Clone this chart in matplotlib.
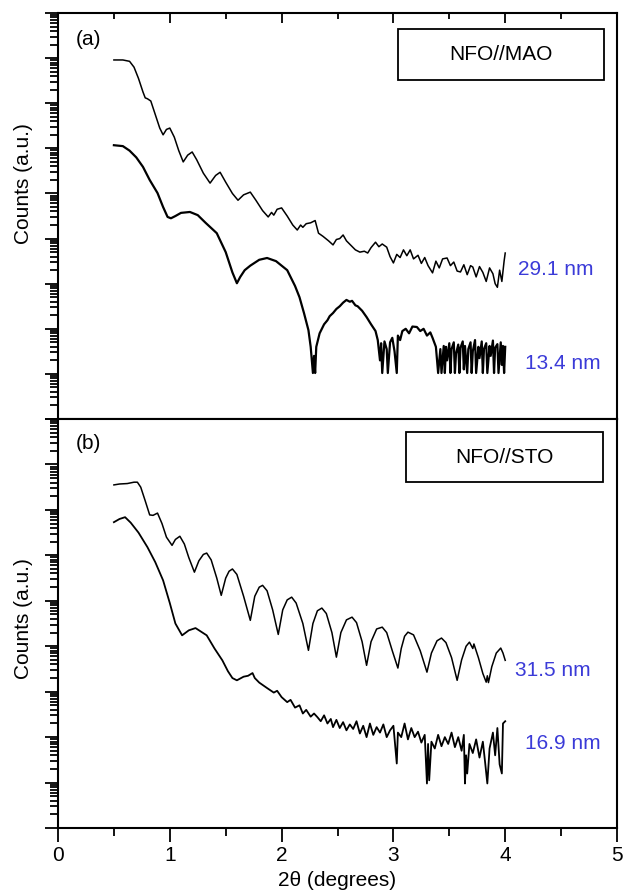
import matplotlib
matplotlib.use("Agg")
import matplotlib.pyplot as plt
from matplotlib.patches import Rectangle
from matplotlib.ticker import LogLocator, NullFormatter, MultipleLocator
import numpy as np

plt.rcParams['font.family'] = ['Liberation Sans', 'DejaVu Sans']

# values, y given as log10(counts) in arbitrary units
# (a) NFO//MAO, 29.1 nm film
mao_thick_x = [0.50, 0.58, 0.64, 0.68, 0.72, 0.76, 0.78, 0.80, 0.83, 0.87, 0.91, 0.94, 0.97, 1.00,
               1.04, 1.08, 1.12, 1.16, 1.20, 1.24, 1.30, 1.36, 1.41, 1.45, 1.50, 1.56, 1.61, 1.66,
               1.72, 1.77, 1.83, 1.88, 1.91, 1.93, 1.96, 2.00, 2.05, 2.10, 2.14, 2.17, 2.19, 2.22,
               2.26, 2.30, 2.33, 2.37, 2.42, 2.46, 2.49, 2.52, 2.55, 2.58, 2.62, 2.66, 2.70, 2.74,
               2.77, 2.80, 2.84, 2.87, 2.90, 2.94, 2.97, 3.00, 3.03, 3.06, 3.09, 3.12, 3.15, 3.18,
               3.22, 3.25, 3.28, 3.31, 3.35, 3.38, 3.41, 3.44, 3.48, 3.51, 3.54, 3.57, 3.60, 3.63,
               3.66, 3.69, 3.71, 3.74, 3.77, 3.80, 3.83, 3.86, 3.89, 3.91, 3.93, 3.95, 3.97, 3.99, 4.00]
mao_thick_log = [7.96, 7.96, 7.93, 7.80, 7.55, 7.25, 7.12, 7.10, 7.05, 6.75, 6.45, 6.30, 6.42, 6.45,
                 6.25, 5.95, 5.70, 5.85, 5.92, 5.75, 5.45, 5.23, 5.40, 5.47, 5.25, 5.00, 4.85, 4.97,
                 5.03, 4.85, 4.62, 4.48, 4.58, 4.52, 4.65, 4.68, 4.50, 4.30, 4.19, 4.30, 4.25, 4.33,
                 4.35, 4.40, 4.12, 4.05, 3.95, 3.86, 3.98, 4.00, 4.08, 3.95, 3.85, 3.75, 3.70, 3.72,
                 3.68, 3.80, 3.92, 3.82, 3.88, 3.81, 3.60, 3.46, 3.65, 3.58, 3.75, 3.62, 3.75, 3.55,
                 3.63, 3.45, 3.58, 3.40, 3.24, 3.50, 3.35, 3.55, 3.57, 3.40, 3.48, 3.28, 3.26, 3.42,
                 3.20, 3.40, 3.37, 3.15, 3.38, 3.25, 3.05, 3.35, 3.22, 3.00, 2.92, 3.30, 3.05, 3.50, 3.68]

# (a) NFO//MAO, 13.4 nm film
mao_thin_x = [0.50, 0.58, 0.64, 0.70, 0.76, 0.82, 0.89, 0.94, 0.98, 1.01, 1.05, 1.10, 1.18, 1.25,
              1.32, 1.42, 1.50, 1.56, 1.60, 1.63, 1.67, 1.72, 1.80, 1.87, 1.95, 2.05, 2.12, 2.16,
              2.20, 2.24, 2.26, 2.28, 2.29, 2.30, 2.31, 2.34, 2.38, 2.41, 2.43, 2.46, 2.49, 2.52,
              2.55, 2.58, 2.61, 2.63, 2.66, 2.68, 2.72, 2.76, 2.80, 2.84, 2.86, 2.88, 2.89, 2.90,
              2.92, 2.94, 2.95, 2.97, 2.99, 3.01, 3.03, 3.04, 3.06, 3.08, 3.11, 3.14, 3.17, 3.21,
              3.24, 3.27, 3.30, 3.33, 3.35, 3.38, 3.40, 3.42, 3.43, 3.45, 3.46, 3.47, 3.48, 3.50,
              3.51, 3.52, 3.54, 3.55, 3.56, 3.58, 3.59, 3.60, 3.62, 3.63, 3.64, 3.66, 3.67, 3.69,
              3.70, 3.71, 3.73, 3.74, 3.76, 3.77, 3.79, 3.80, 3.81, 3.83, 3.84, 3.86, 3.87, 3.89,
              3.90, 3.91, 3.93, 3.94, 3.96, 3.97, 3.98, 3.99, 4.00]
mao_thin_log = [6.07, 6.05, 5.95, 5.80, 5.59, 5.30, 5.01, 4.70, 4.48, 4.45, 4.50, 4.57, 4.59, 4.52,
                4.35, 4.12, 3.70, 3.25, 3.01, 3.15, 3.30, 3.40, 3.53, 3.57, 3.50, 3.30, 2.95, 2.70,
                2.35, 1.97, 1.60, 1.02, 1.40, 1.02, 1.60, 1.90, 2.10, 2.19, 2.28, 2.35, 2.44, 2.50,
                2.58, 2.64, 2.60, 2.62, 2.52, 2.50, 2.40, 2.26, 2.10, 1.95, 1.75, 1.30, 1.68, 1.02,
                1.72, 1.55, 1.02, 1.70, 1.80, 1.50, 1.02, 1.85, 1.75, 1.95, 2.00, 1.90, 2.05, 2.04,
                1.95, 2.00, 1.85, 1.92, 1.80, 1.60, 1.02, 1.55, 1.02, 1.62, 1.02, 1.60, 1.30, 1.68,
                1.02, 1.55, 1.70, 1.02, 1.45, 1.65, 1.02, 1.58, 1.72, 1.10, 1.62, 1.02, 1.55, 1.70,
                1.02, 1.50, 1.75, 1.02, 1.60, 1.35, 1.72, 1.02, 1.55, 1.68, 1.02, 1.62, 1.40, 1.74,
                1.02, 1.58, 1.66, 1.02, 1.70, 1.20, 1.62, 1.02, 1.60]

# (b) NFO//STO, 31.5 nm film
sto_thick_x = [0.50, 0.55, 0.62, 0.68, 0.71, 0.74, 0.78, 0.82, 0.85, 0.89, 0.93, 0.97, 1.02, 1.05,
               1.09, 1.13, 1.17, 1.22, 1.26, 1.30, 1.33, 1.37, 1.42, 1.46, 1.50, 1.53, 1.56, 1.60,
               1.66, 1.72, 1.76, 1.80, 1.83, 1.87, 1.92, 1.97, 2.01, 2.05, 2.09, 2.13, 2.19, 2.24,
               2.28, 2.32, 2.36, 2.40, 2.45, 2.49, 2.53, 2.58, 2.63, 2.67, 2.72, 2.76, 2.80, 2.85,
               2.90, 2.94, 2.99, 3.04, 3.07, 3.10, 3.13, 3.18, 3.24, 3.30, 3.34, 3.39, 3.43, 3.47,
               3.52, 3.57, 3.61, 3.65, 3.68, 3.71, 3.72, 3.76, 3.80, 3.83, 3.84, 3.85, 3.88, 3.92,
               3.96, 3.98, 4.00]
sto_thick_log = [7.55, 7.57, 7.58, 7.61, 7.61, 7.50, 7.20, 6.89, 6.88, 6.93, 6.70, 6.40, 6.22, 6.35,
                 6.42, 6.25, 5.95, 5.63, 5.88, 6.02, 6.05, 5.90, 5.50, 5.12, 5.50, 5.65, 5.70, 5.58,
                 5.10, 4.57, 5.10, 5.30, 5.34, 5.22, 4.80, 4.26, 4.80, 5.02, 5.08, 4.95, 4.50, 3.91,
                 4.50, 4.78, 4.84, 4.72, 4.30, 3.76, 4.30, 4.58, 4.64, 4.52, 4.10, 3.58, 4.10, 4.38,
                 4.42, 4.30, 3.90, 3.52, 3.95, 4.22, 4.31, 4.25, 3.90, 3.43, 3.85, 4.12, 4.18, 4.08,
                 3.75, 3.25, 3.70, 4.00, 4.09, 3.95, 4.05, 3.75, 3.40, 3.21, 3.35, 3.20, 3.55, 3.85,
                 3.96, 3.85, 3.69]

# (b) NFO//STO, 16.9 nm film
sto_thin_x = [0.50, 0.55, 0.60, 0.65, 0.72, 0.80, 0.87, 0.94, 1.00, 1.05, 1.11, 1.17, 1.23, 1.33,
              1.40, 1.47, 1.52, 1.56, 1.60, 1.66, 1.70, 1.74, 1.76, 1.80, 1.87, 1.93, 1.96, 2.00,
              2.05, 2.08, 2.12, 2.16, 2.19, 2.22, 2.26, 2.29, 2.32, 2.35, 2.38, 2.41, 2.44, 2.46,
              2.49, 2.52, 2.55, 2.58, 2.61, 2.64, 2.67, 2.70, 2.73, 2.76, 2.79, 2.82, 2.85, 2.88,
              2.91, 2.94, 2.97, 3.00, 3.03, 3.04, 3.07, 3.10, 3.13, 3.16, 3.19, 3.22, 3.25, 3.28,
              3.30, 3.31, 3.32, 3.34, 3.37, 3.40, 3.43, 3.46, 3.49, 3.52, 3.55, 3.58, 3.61, 3.63,
              3.64, 3.65, 3.66, 3.68, 3.71, 3.74, 3.77, 3.80, 3.82, 3.84, 3.86, 3.89, 3.91, 3.93,
              3.95, 3.97, 3.98, 4.00]
sto_thin_log = [6.73, 6.80, 6.84, 6.72, 6.50, 6.18, 5.85, 5.45, 4.95, 4.50, 4.24, 4.35, 4.40, 4.24,
                3.95, 3.69, 3.45, 3.30, 3.25, 3.33, 3.35, 3.41, 3.30, 3.20, 3.08, 2.98, 3.02, 2.88,
                2.77, 2.82, 2.65, 2.70, 2.52, 2.60, 2.45, 2.52, 2.44, 2.35, 2.48, 2.30, 2.40, 2.22,
                2.38, 2.20, 2.33, 2.15, 2.28, 2.18, 2.35, 2.08, 2.25, 2.00, 2.30, 2.05, 2.22, 2.10,
                2.28, 2.00, 2.15, 2.25, 1.42, 2.10, 2.00, 2.30, 1.95, 2.20, 2.00, 2.12, 1.88, 2.05,
                0.98, 1.85, 1.05, 1.90, 1.75, 2.05, 1.80, 2.00, 1.85, 2.10, 1.78, 2.00, 1.70, 2.05,
                0.98, 1.60, 1.20, 1.85, 1.65, 1.95, 1.55, 1.90, 1.45, 0.98, 1.75, 2.10, 1.60, 2.20,
                1.40, 1.20, 2.30, 2.35]

panel_tags = ["(a)", "(b)"]
sample_names = ["NFO//MAO", "NFO//STO"]
thickness_labels = [["29.1 nm", "13.4 nm"], ["31.5 nm", "16.9 nm"]]
label_pos = [[(4.11, 3.32), (4.18, 1.22)], [(4.09, 3.47), (4.18, 1.86)]]

blue = '#3b3bd8'

fig = plt.figure(figsize=(6.23, 8.94), dpi=100)
ax_a = fig.add_axes([0.0931, 0.5313, 0.8973, 0.4541])
ax_b = fig.add_axes([0.0931, 0.0738, 0.8973, 0.4575])

ax_a.plot(mao_thick_x, 10 ** np.array(mao_thick_log), color='black', lw=1.1)
ax_a.plot(mao_thin_x, 10 ** np.array(mao_thin_log), color='black', lw=1.6)
ax_b.plot(sto_thick_x, 10 ** np.array(sto_thick_log), color='black', lw=1.1)
ax_b.plot(sto_thin_x, 10 ** np.array(sto_thin_log), color='black', lw=1.3)

boxes = [(0.608, 0.835, 0.369, 0.126), (0.623, 0.846, 0.352, 0.122)]
ylab_y = [0.579, 0.511]

for i, ax in enumerate([ax_a, ax_b]):
    ax.set_yscale('log')
    ax.set_xlim(0, 5)
    ax.set_ylim(1, 1e9)
    ax.yaxis.set_major_locator(LogLocator(base=10, numticks=20))
    ax.yaxis.set_minor_locator(LogLocator(base=10, subs=np.arange(2, 10), numticks=20))
    ax.yaxis.set_major_formatter(NullFormatter())
    ax.yaxis.set_minor_formatter(NullFormatter())
    ax.xaxis.set_major_locator(MultipleLocator(1))
    ax.xaxis.set_minor_locator(MultipleLocator(0.5))
    for s in ax.spines.values():
        s.set_linewidth(1.5)
    ax.tick_params(axis='y', which='both', left=True, right=False, direction='out', width=1.3)
    ax.tick_params(axis='y', which='major', length=9.5)
    ax.tick_params(axis='y', which='minor', length=5.5)

    ax.set_ylabel("Counts (a.u.)", fontsize=15)
    ax.yaxis.set_label_coords(-0.045, ylab_y[i])

    ax.text(0.055, 0.935 + 0.006 * i, panel_tags[i], transform=ax.transAxes, fontsize=15,
            ha='center', va='center')
    bx, by, bw, bh = boxes[i]
    ax.add_patch(Rectangle((bx, by), bw, bh, transform=ax.transAxes, fill=False,
                           lw=1.3, edgecolor='black'))
    ax.text(bx + bw / 2, by + bh / 2, sample_names[i], transform=ax.transAxes, fontsize=15,
            ha='center', va='center')
    for lab, (lx, ly) in zip(thickness_labels[i], label_pos[i]):
        ax.text(lx, 10 ** ly, lab, color=blue, fontsize=15, ha='left', va='center')

# top panel: inward ticks on the top edge only
ax_a.tick_params(axis='x', which='both', bottom=False, top=True, direction='in',
                 labelbottom=False, width=1.3)
ax_a.tick_params(axis='x', which='major', length=7)
ax_a.tick_params(axis='x', which='minor', length=4)

# bottom panel: outward ticks with labels
ax_b.tick_params(axis='x', which='both', bottom=True, top=False, direction='out', width=1.3)
ax_b.tick_params(axis='x', which='major', length=10, labelsize=15, pad=3)
ax_b.tick_params(axis='x', which='minor', length=6)
ax_b.set_xlabel("2θ (degrees)", fontsize=15, labelpad=4)

fig.savefig("out.png", dpi=100)
